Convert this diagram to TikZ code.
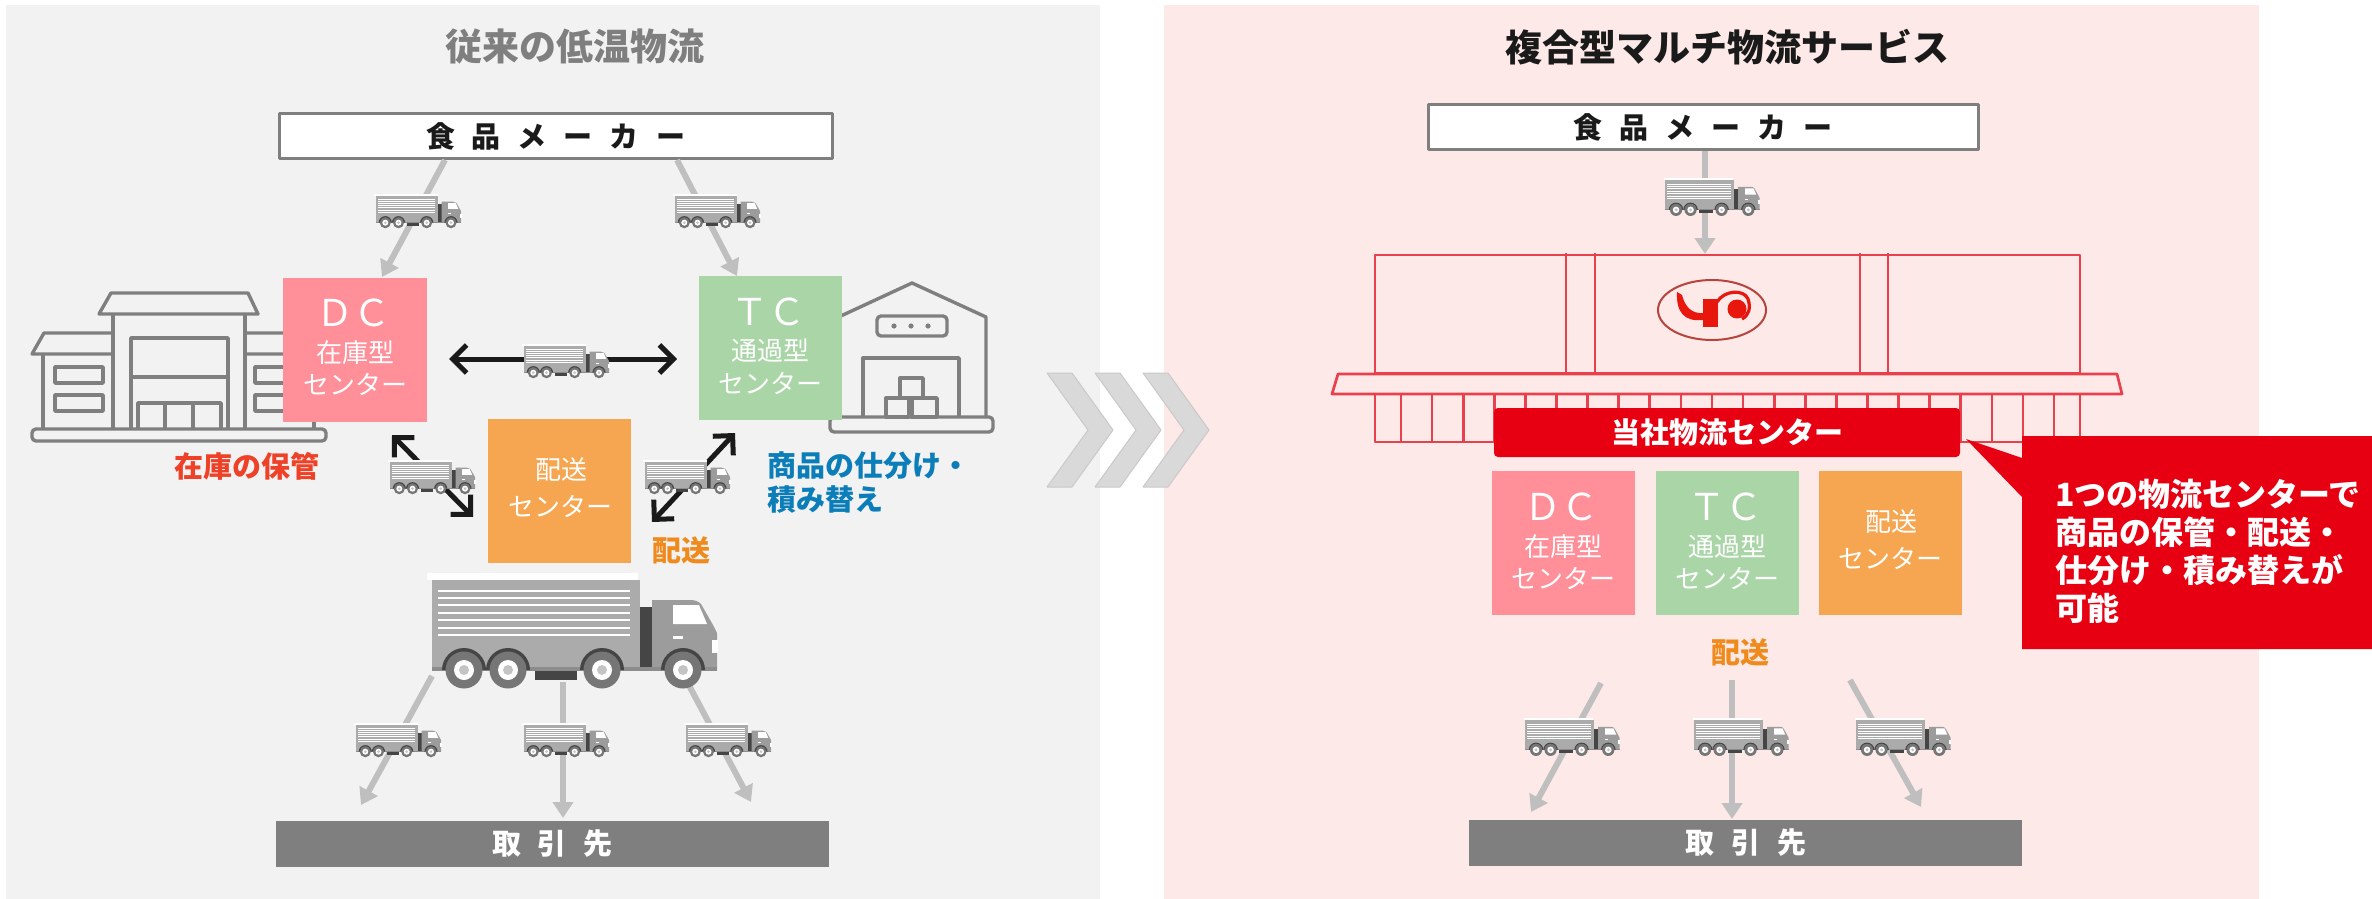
\documentclass[tikz,border=0pt]{standalone}
\usepackage{fontspec}
\setmainfont{Noto Sans CJK JP}
\usetikzlibrary{arrows.meta}

\definecolor{panelgray}{HTML}{F2F2F2}
\definecolor{panelpink}{HTML}{FDE9E7}
\definecolor{linegray}{HTML}{7F7F7F}
\definecolor{arrowgray}{HTML}{BFBFBF}
\definecolor{chev}{HTML}{D9D9D9}
\definecolor{chevedge}{HTML}{C9C9C9}
\definecolor{dcpink}{HTML}{FF8F99}
\definecolor{tcgreen}{HTML}{A9D5A7}
\definecolor{dvorange}{HTML}{F6A651}
\definecolor{stockred}{HTML}{EE4127}
\definecolor{sortblue}{HTML}{0B7DB8}
\definecolor{shiporange}{HTML}{F08A1D}
\definecolor{corpred}{HTML}{E60012}
\definecolor{bldred}{HTML}{E8414E}
\definecolor{logoring}{HTML}{B5443C}
\definecolor{logored}{HTML}{E8170E}
\definecolor{textdark}{HTML}{1A1A1A}
\definecolor{truckbody}{HTML}{ABABAB}
\definecolor{truckcab}{HTML}{9C9C9C}
\definecolor{truckdark}{HTML}{454545}
\definecolor{truckline}{HTML}{8C8C8C}
\definecolor{truckwheel}{HTML}{767676}
\definecolor{truckhub}{HTML}{C4C4C4}

\newcommand{\fsz}[1]{\fontsize{#1pt}{#1pt}\selectfont}
\newcommand{\gapA}{\hspace{8.5pt}}

\tikzset{
  every node/.style={inner sep=0pt, outer sep=0pt},
  headbox/.style={draw=linegray, line width=1.5pt, fill=white, minimum height=22.5pt,
                  font=\fsz{14.5}\bfseries, text=textdark},
  footbox/.style={fill=linegray, minimum height=23pt, font=\fsz{14.5}\bfseries, text=white},
  centerbox/.style={minimum width=71.5pt, minimum height=72pt},
  boxbig/.style={font=\fsz{18.5}, text=white},
  boxsmall/.style={font=\fsz{13}, text=white},
  boldlabel/.style={font=\fsz{14.5}\bfseries},
  icon/.style={draw=linegray, line width=1.7pt, line join=round},
  bld/.style={draw=bldred, line width=1.35pt},
  grayarrow/.style={draw=arrowgray, line width=3pt, -{Triangle[length=8pt,width=10pt]}},
  blackarrow/.style={draw=textdark, line width=2.5pt,
    {Straight Barb[length=7pt,width=14pt]}-{Straight Barb[length=7pt,width=14pt]}},
  truck/.pic={
    \fill[white] (-146,-58) rectangle (65,-51);
    \fill[truckbody] (-141,-51) rectangle (67,39);
    \foreach \yy in {-40,-33,-26,-18,-11,-3,4}
      \fill[white] (-135,\yy-0.9) rectangle (57,\yy+0.9);
    \fill[truckdark] (67,-24) rectangle (79,39);
    \fill[truckcab] (79,-31) -- (116,-31) .. controls (122,-31) and (125,-30) .. (128,-27)
      -- (140,-6) -- (144,2) -- (144,39) -- (79,39) -- cycle;
    \fill[white] (100,-26) -- (126,-26) -- (134,-7) -- (100,-7) -- cycle;
    \fill[white] (100,5) rectangle (110,8);
    \fill[white] (139,9) rectangle (145,22);
    \fill[truckline] (-141,36) rectangle (144,40);
    \fill[truckdark] (-38,40) rectangle (4,49);
    \foreach \xx in {-109,-65,29,110}{
      \fill[truckdark] (\xx-22,39) arc[start angle=180, end angle=360, radius=22] -- cycle;
      \fill[truckwheel] (\xx,39) circle[radius=18.5];
      \fill[white] (\xx,39) circle[radius=10];
      \fill[truckhub] (\xx,39) circle[radius=5];
    }
  }
}

\begin{document}
\begin{tikzpicture}[x=0.5pt,y=-0.5pt,line join=round]
\useasboundingbox (0,0) rectangle (2372,899);
\fill[white] (0,0) rectangle (2372,899);

% panels
\fill[panelgray] (6,5) rectangle (1100,899);
\fill[panelpink] (1164,5) rectangle (2259,899);

% transition chevrons
\foreach \dx in {0,48,96}
  \filldraw[fill=chev, draw=chevedge, line width=0.5pt]
    (1047+\dx,373) -- (1072+\dx,373) -- (1113+\dx,430) -- (1072+\dx,487)
    -- (1047+\dx,487) -- (1088+\dx,430) -- cycle;

% ================= conventional cold-chain logistics =================
\node[font=\fsz{18.5}\bfseries, text=linegray] (ttl1) at (575,47) {従来の低温物流};

\node[headbox, minimum width=276.5pt] (maker1) at (555.5,136.5)
  {食\gapA 品\gapA メ\gapA ー\gapA カ\gapA ー};

% storage warehouse icon
\draw[icon] (111,293) -- (248,293) -- (258,314) -- (99,314) -- cycle;
\draw[icon] (113,314) -- (113,430) (245,314) -- (245,430);
\draw[icon] (131,429) -- (131,338) -- (228,338) -- (228,429);
\draw[icon] (131,377) -- (228,377);
\draw[icon] (138,429) -- (138,403) -- (221,403) -- (221,429);
\draw[icon] (165,403) -- (165,429) (193,403) -- (193,429);
\draw[icon] (113,333) -- (44,333) -- (32,354) -- (113,354);
\draw[icon] (43,354) -- (43,430);
\draw[icon] (55,367) rectangle (103,383);
\draw[icon] (55,395) rectangle (103,411);
\draw[icon] (245,333) -- (314,333) -- (326,354) -- (245,354);
\draw[icon] (314,354) -- (314,430);
\draw[icon] (255,367) rectangle (303,383);
\draw[icon] (255,395) rectangle (303,411);
\draw[icon, rounded corners=2pt] (32,429) rectangle (326,441);

% transfer warehouse icon
\draw[icon] (830,321) -- (912,283) -- (986,317) -- (986,418);
\draw[icon, rounded corners=2pt] (877,316) rectangle (947,336);
\fill[linegray] (894,326) circle[radius=2.6] (911,326) circle[radius=2.6] (928,326) circle[radius=2.6];
\draw[icon] (863,417) -- (863,358) -- (959,358) -- (959,417);
\draw[icon] (900,398) rectangle (923,378);
\draw[icon] (886,417) rectangle (909,398);
\draw[icon] (912,417) rectangle (937,398);
\draw[icon, rounded corners=2pt] (830,417) rectangle (993,432);

% centres
\node[centerbox, fill=dcpink, minimum width=72pt] (dc1) at (355,349.5) {};
\node[centerbox, fill=tcgreen] (tc1) at (770.5,347.5) {};
\node[centerbox, fill=dvorange] (hs1) at (559.5,491) {};
\node[boxbig]   (dc1a) at (353,313) {ＤＣ};
\node[boxsmall] (dc1b) at (355,353) {在庫型};
\node[boxsmall] (dc1c) at (355,384) {センター};
\node[boxbig]   (tc1a) at (768,312) {ＴＣ};
\node[boxsmall] (tc1b) at (770,351) {通過型};
\node[boxsmall] (tc1c) at (770,383) {センター};
\node[boxsmall] (hs1a) at (561,470) {配送};
\node[boxsmall] (hs1b) at (560,506) {センター};

\node[footbox, minimum width=276.5pt] (client1) at (552.5,844) {取\gapA 引\gapA 先};

% supply arrows
\coordinate (m1l) at (445,160);
\coordinate (m1r) at (677,160);
\coordinate (dc1in) at (382,277);
\coordinate (tc1in) at (737,276);
\draw[grayarrow] (m1l) -- (dc1in);
\draw[grayarrow] (m1r) -- (tc1in);

% exchange arrows
\coordinate (dc1e) at (449,359);
\coordinate (tc1e) at (677,359);
\draw[blackarrow] (dc1e) -- (tc1e);
\coordinate (dc1s) at (392,435);
\coordinate (hs1w) at (473,517);
\draw[blackarrow] (dc1s) -- (hs1w);
\coordinate (tc1s) at (735,433);
\coordinate (hs1e) at (652,522);
\draw[blackarrow] (tc1s) -- (hs1e);

% delivery arrows
\coordinate (bt1) at (432,676);
\coordinate (bt2) at (563,682);
\coordinate (bt3) at (684,676);
\coordinate (cl1a) at (361,805);
\coordinate (cl1b) at (563,818);
\coordinate (cl1c) at (751,802);
\draw[grayarrow] (bt1) -- (cl1a);
\draw[grayarrow] (bt2) -- (cl1b);
\draw[grayarrow] (bt3) -- (cl1c);

% trucks
\pic[scale=0.3] at (418,211) {truck};
\pic[scale=0.3] at (717,211) {truck};
\pic[scale=0.3] at (566,361) {truck};
\pic[scale=0.3] at (432,477) {truck};
\pic[scale=0.3] at (687,477) {truck};
\pic at (573,631) {truck};
\pic[scale=0.3] at (398,740) {truck};
\pic[scale=0.3] at (566,740) {truck};
\pic[scale=0.3] at (728,740) {truck};

% labels
\node[boldlabel, text=stockred] (lbl1) at (247,466) {在庫の保管};
\node[boldlabel, text=sortblue, anchor=west] (lbl2) at (767,466) {商品の仕分け・};
\node[boldlabel, text=sortblue, anchor=west] (lbl3) at (767,500) {積み替え};
\node[boldlabel, text=shiporange] (lbl4) at (681,550) {配送};

% ================= integrated multi-logistics =================
\node[font=\fsz{18.5}\bfseries, text=textdark] (ttl2) at (1727,47) {複合型マルチ物流サービス};

\node[headbox, minimum width=275pt] (maker2) at (1703,127.5)
  {食\gapA 品\gapA メ\gapA ー\gapA カ\gapA ー};

% distribution centre building
\draw[bld] (1375,255) rectangle (2080,373);
\draw[bld] (1566,253) -- (1566,373) (1595,253) -- (1595,373);
\draw[bld] (1860,253) -- (1860,373) (1888,253) -- (1888,373);
\draw[bld] (1338,374) -- (2117,374) -- (2122,394) -- (1332,394) -- cycle;
\draw[bld] (1375,394) -- (1375,442) -- (2080,442) -- (2080,394);
\foreach \k in {0,...,21}
  \draw[bld] (1401+31.1*\k,394) -- (1401+31.1*\k,442);

% company mark
\draw[logoring, line width=1pt] (1712,310) ellipse [x radius=54, y radius=30];
\fill[logored] (1677,292) .. controls (1676,312) and (1684,322) .. (1703,320)
  -- (1703,313) .. controls (1692,314) and (1685,307) .. (1682,295) -- cycle;
\fill[logored] (1703,299) rectangle (1718,327);
\fill[logored] (1737,309) circle[radius=9.5];
\draw[logored, line width=1.6pt] (1717,302) .. controls (1724,290) and (1744,289) .. (1748,299)
  .. controls (1751,308) and (1749,315) .. (1742,319);

\coordinate (bldtop) at (1705,254);
\coordinate (m2b) at (1705,151);
\draw[grayarrow] (m2b) -- (bldtop);
\pic[scale=0.33] at (1712,197) {truck};

\node[fill=corpred, rounded corners=2pt, minimum width=233pt, minimum height=24.5pt,
      font=\fsz{14.5}\bfseries, text=white] (own) at (1727,432.5) {当社物流センター};

\node[centerbox, fill=dcpink] (dc2) at (1563.5,543) {};
\node[centerbox, fill=tcgreen] (tc2) at (1727,543) {};
\node[centerbox, fill=dvorange] (hs2) at (1890.5,543) {};
\node[boxbig]   (dc2a) at (1561,507) {ＤＣ};
\node[boxsmall] (dc2b) at (1563,547) {在庫型};
\node[boxsmall] (dc2c) at (1563,578) {センター};
\node[boxbig]   (tc2a) at (1725,507) {ＴＣ};
\node[boxsmall] (tc2b) at (1727,547) {通過型};
\node[boxsmall] (tc2c) at (1727,578) {センター};
\node[boxsmall] (hs2a) at (1891,522) {配送};
\node[boxsmall] (hs2b) at (1890,558) {センター};

\node[boldlabel, text=shiporange] (lbl5) at (1740,652) {配送};

% callout
\fill[corpred] (2022,436) -- (2372,436) -- (2372,649) -- (2022,649) -- (2022,497)
  -- (1966,439) -- (2022,458) -- cycle;
\node[anchor=west, align=left, text=white, font=\fontsize{16pt}{18.9pt}\selectfont\bfseries]
  (note) at (2055,551.5) {1つの物流センターで\\商品の保管・配送・\\仕分け・積み替えが\\可能};

\node[footbox, minimum width=276.5pt] (client2) at (1745.5,843) {取\gapA 引\gapA 先};

\coordinate (sd1) at (1601,683);
\coordinate (sd2) at (1732,680);
\coordinate (sd3) at (1850,680);
\coordinate (cl2a) at (1531,812);
\coordinate (cl2b) at (1732,819);
\coordinate (cl2c) at (1921,807);
\draw[grayarrow] (sd1) -- (cl2a);
\draw[grayarrow] (sd2) -- (cl2b);
\draw[grayarrow] (sd3) -- (cl2c);
\pic[scale=0.33] at (1572,737) {truck};
\pic[scale=0.33] at (1741,737) {truck};
\pic[scale=0.33] at (1903,737) {truck};
\end{tikzpicture}
\end{document}
